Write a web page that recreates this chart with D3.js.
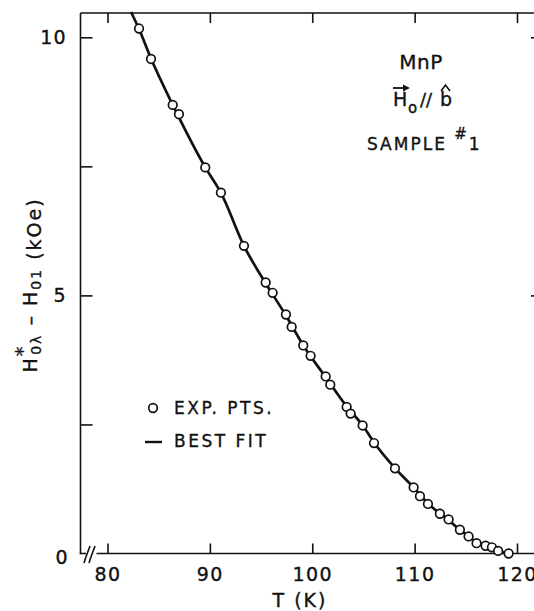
<!DOCTYPE html>
<html>
<head>
<meta charset="utf-8">
<script src="https://cdn.jsdelivr.net/npm/d3@7/dist/d3.min.js"></script>
<style>
  html, body { margin: 0; padding: 0; background: #fff; }
  svg { display: block; }
  text { font-family: "DejaVu Sans", "Liberation Sans", sans-serif; fill: #111; stroke: #111; stroke-width: 0.35px; }
</style>
</head>
<body>
<svg id="chart" width="534" height="611"></svg>
<script>
// Measured temperatures (K) and field differences (kOe)
const expT = [83.08, 84.25, 86.37, 86.98, 89.55, 91.08, 93.33, 95.45, 96.13,
  97.43, 97.99, 99.12, 99.84, 101.31, 101.76, 103.36, 103.75, 104.92, 106.03,
  108.08, 109.90, 110.52, 111.30, 112.47, 113.32, 114.42, 115.27, 116.05,
  116.93, 117.55, 118.16, 119.18];
const expH = [10.17, 9.58, 8.69, 8.51, 7.48, 6.99, 5.96, 5.25, 5.05,
  4.63, 4.39, 4.03, 3.83, 3.43, 3.27, 2.84, 2.71, 2.48, 2.14,
  1.65, 1.28, 1.11, 0.96, 0.77, 0.66, 0.46, 0.33, 0.20,
  0.15, 0.12, 0.05, 0.00];

// Best-fit curve
const fitT = [82.3, 83.08, 84.25, 86.4, 89.55, 91.1, 93.3, 95.4, 97.4, 99.1,
  101.3, 103.4, 105.0, 106.0, 108.1, 109.9, 111.3, 112.5, 113.3, 114.4,
  115.3, 116.0, 116.9, 117.6, 118.2, 119.2];
const fitH = [10.49, 10.16, 9.59, 8.68, 7.48, 6.98, 5.97, 5.25, 4.62, 4.04,
  3.42, 2.84, 2.46, 2.16, 1.65, 1.28, 0.97, 0.77, 0.65, 0.46,
  0.33, 0.22, 0.14, 0.09, 0.05, 0.00];

const xTicks = [80, 90, 100, 110, 120];
const yTicks = [0, 2.5, 5, 7.5, 10];
const yLabels = [0, 5, 10];
const rightTicks = [5, 10];

const svg = d3.select("#chart");
const x = d3.scaleLinear().domain([80, 120]).range([107.5, 517]);
const y = d3.scaleLinear().domain([0, 10]).range([553.5, 37.3]);

const frameLeft = 80.5, frameRight = 541, frameTop = 13, frameBottom = y(0);
const ink = "#111";

// Frame
const frame = svg.append("g").attr("fill", "none").attr("stroke", ink).attr("stroke-width", 1.6);
frame.append("line").attr("x1", frameLeft).attr("x2", frameLeft).attr("y1", frameTop).attr("y2", frameBottom);
frame.append("line").attr("x1", frameLeft).attr("x2", frameRight).attr("y1", frameTop).attr("y2", frameTop);
frame.append("line").attr("x1", frameRight).attr("x2", frameRight).attr("y1", frameTop).attr("y2", frameBottom);
frame.append("line").attr("x1", frameLeft - 0.8).attr("x2", 86).attr("y1", frameBottom).attr("y2", frameBottom);
frame.append("line").attr("x1", 96.5).attr("x2", frameRight).attr("y1", frameBottom).attr("y2", frameBottom);
// Axis break marks
frame.append("path").attr("d", "M84,563 C86,556 88,552 90,546");
frame.append("path").attr("d", "M89,563 C91,556 93,552 95,546");

// Bottom axis ticks and labels
const xAxis = d3.axisBottom(x).tickValues(xTicks).tickSize(-10).tickPadding(14).tickFormat(d3.format("d"));
const gx = svg.append("g").attr("transform", `translate(0,${frameBottom})`).call(xAxis);
gx.select(".domain").remove();
gx.selectAll(".tick line").attr("stroke", ink).attr("stroke-width", 1.6);
gx.selectAll(".tick text").attr("font-size", 19).attr("letter-spacing", 1.5)
  .style("font-family", '"DejaVu Sans", sans-serif').attr("fill", ink);

// Top ticks
const gxt = svg.append("g").attr("transform", `translate(0,${frameTop})`)
  .call(d3.axisTop(x).tickValues(xTicks).tickSize(-10).tickFormat(""));
gxt.select(".domain").remove();
gxt.selectAll(".tick line").attr("stroke", ink).attr("stroke-width", 1.6);

// Left axis ticks and labels
const yAxis = d3.axisLeft(y).tickValues(yTicks).tickSize(-12).tickPadding(14)
  .tickFormat(d => yLabels.includes(d) ? d3.format("d")(d) : "");
const gy = svg.append("g").attr("transform", `translate(${frameLeft},0)`).call(yAxis);
gy.select(".domain").remove();
gy.selectAll(".tick line").attr("stroke", ink).attr("stroke-width", 1.6);
gy.selectAll(".tick").filter(d => d === 0).select("line").remove();
gy.selectAll(".tick text").attr("font-size", 19).attr("letter-spacing", 1)
  .style("font-family", '"DejaVu Sans", sans-serif').attr("fill", ink);
gy.selectAll(".tick").filter(d => d === 0).select("text").attr("dy", "0.55em").attr("x", -12);

// Right ticks
const gyr = svg.append("g").attr("transform", `translate(${frameRight},0)`)
  .call(d3.axisRight(y).tickValues(rightTicks).tickSize(-10).tickFormat(""));
gyr.select(".domain").remove();
gyr.selectAll(".tick line").attr("stroke", ink).attr("stroke-width", 1.6);

// Best-fit line
const fitData = fitT.map((t, i) => [t, fitH[i]]);
svg.append("path").datum(fitData)
  .attr("fill", "none").attr("stroke", ink).attr("stroke-width", 2.7)
  .attr("d", d3.line().x(d => x(d[0])).y(d => y(d[1])).curve(d3.curveMonotoneX));

// Experimental points
svg.append("g").selectAll("circle").data(expT.map((t, i) => [t, expH[i]]))
  .join("circle")
  .attr("cx", d => x(d[0])).attr("cy", d => y(d[1])).attr("r", 4.3)
  .attr("fill", "#fff").attr("stroke", ink).attr("stroke-width", 1.7);

// Axis titles
svg.append("text").attr("x", 300).attr("y", 607).attr("text-anchor", "middle")
  .attr("font-size", 19).attr("letter-spacing", 2).text("T (K)");

const yt = svg.append("text").attr("transform", "translate(37,285) rotate(-90)")
  .attr("text-anchor", "middle").attr("font-size", 19).attr("letter-spacing", 2);
yt.append("tspan").text("H");
yt.append("tspan").attr("font-size", 19).attr("dy", -8).text("*");
yt.append("tspan").attr("font-size", 14).attr("dx", -10).attr("dy", 12).text("0λ");
yt.append("tspan").attr("dy", -4).text(" – H");
yt.append("tspan").attr("font-size", 14).attr("dy", 4).text("01");
yt.append("tspan").attr("dy", 0).text(" (kOe)");

// Annotations
svg.append("text").attr("x", 421).attr("y", 69).attr("text-anchor", "middle")
  .attr("font-size", 20).attr("letter-spacing", 0.5).text("MnP");

const hl = svg.append("g");
hl.append("text").attr("x", 393).attr("y", 106).attr("font-size", 19).text("H");
hl.append("text").attr("x", 408).attr("y", 113).attr("font-size", 15).text("o");
hl.append("text").attr("x", 420).attr("y", 106).attr("font-size", 18).text("//");
hl.append("text").attr("x", 440).attr("y", 106).attr("font-size", 19).text("b");
hl.append("path").attr("d", "M441,91 L445.5,85 L450,91").attr("stroke", ink).attr("stroke-width", 1.6).attr("fill", "none");
hl.append("path").attr("d", "M393,88 L408,88").attr("stroke", ink).attr("stroke-width", 1.8).attr("fill", "none");
hl.append("path").attr("d", "M403,84.5 L410,88 L403,91.5 Z").attr("fill", ink);

const samp = svg.append("text").attr("x", 367).attr("y", 150).attr("font-size", 17).attr("letter-spacing", 2);
samp.append("tspan").text("SAMPLE ");
samp.append("tspan").attr("font-size", 15).attr("dy", -11).text("#");
samp.append("tspan").attr("dy", 11).text("1");

// Legend
svg.append("circle").attr("cx", 153).attr("cy", 408).attr("r", 4.3)
  .attr("fill", "#fff").attr("stroke", ink).attr("stroke-width", 1.7);
svg.append("text").attr("x", 174).attr("y", 414).attr("font-size", 17).attr("letter-spacing", 2.5).text("EXP. PTS.");
svg.append("line").attr("x1", 145).attr("x2", 162).attr("y1", 442).attr("y2", 442)
  .attr("stroke", ink).attr("stroke-width", 2.4);
svg.append("text").attr("x", 174).attr("y", 447).attr("font-size", 17).attr("letter-spacing", 2.5).text("BEST FIT");
</script>
</body>
</html>
